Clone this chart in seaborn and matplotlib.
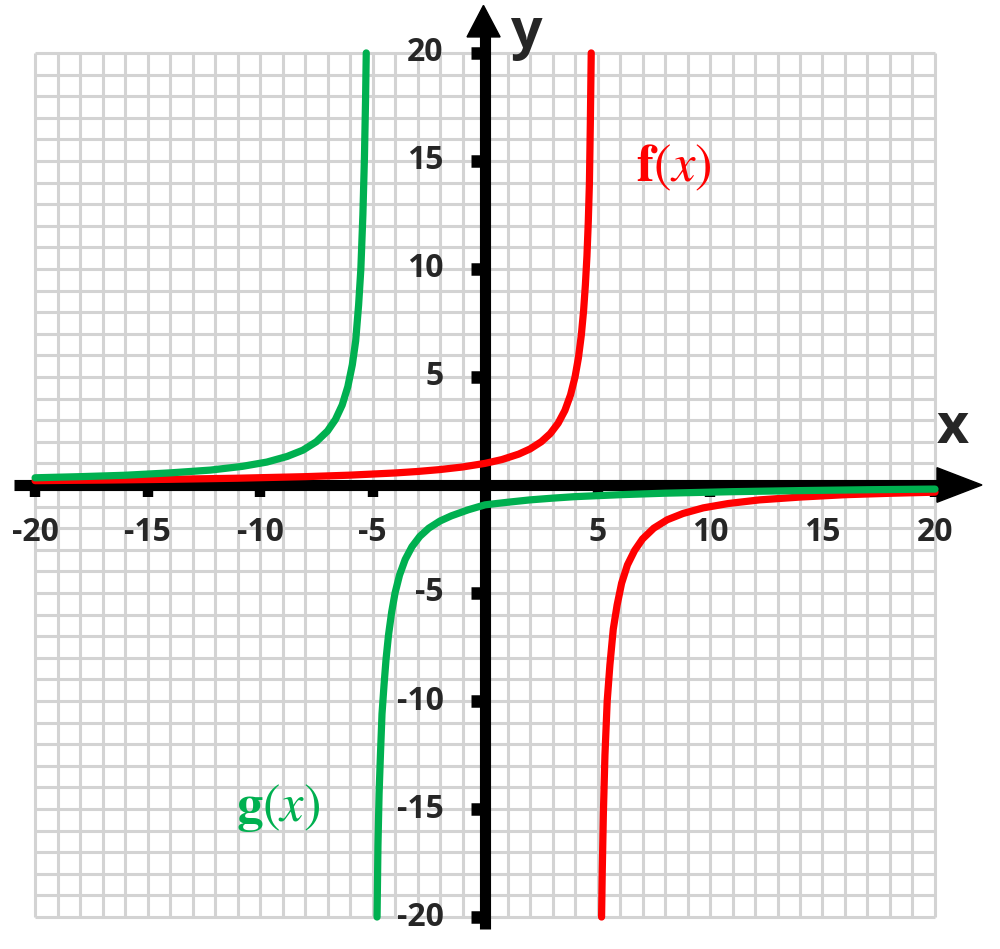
import numpy as np
import pandas as pd
import matplotlib
matplotlib.use('Agg')
from matplotlib import pyplot as plt
import seaborn as sns

# 곡선 데이터
f_left_x = [-20, -17, -14, -11, -8, -6, -4, -3, -2, -1, 0, 0.75, 1.5, 2, 2.5, 2.9, 3.25, 3.55, 3.8, 4.0,
            4.15, 4.28, 4.38, 4.46, 4.53, 4.59, 4.64, 4.68, 4.72]
f_left_y = [0.2, 0.227, 0.263, 0.313, 0.385, 0.455, 0.556, 0.625, 0.714, 0.833, 1.0, 1.176, 1.43, 1.667, 2.0, 2.38,
            2.86, 3.45, 4.17, 5.0, 5.88, 6.94, 8.06, 9.26, 10.6, 12.2, 14.0, 16.7, 20.0]
f_right_x = [5.18, 5.21, 5.26, 5.33, 5.43, 5.55, 5.7, 5.87, 6.07, 6.33, 6.65, 7.0, 7.5, 8.1, 8.8, 9.7, 10.8, 12.2,
             14, 16, 18, 20]
f_right_y = [-20, -17.9, -15.2, -12.5, -10, -8.33, -6.67, -5.56, -4.55, -3.7, -3.03, -2.5, -2.0, -1.61, -1.32,
             -1.06, -0.86, -0.69, -0.56, -0.45, -0.385, -0.333]
g_left_x = [-20, -18, -16, -14, -12.2, -10.8, -9.7, -8.8, -8.1, -7.5, -7.0, -6.65, -6.35, -6.1, -5.9, -5.75,
            -5.62, -5.52, -5.43, -5.36, -5.31, -5.28]
g_left_y = [0.333, 0.385, 0.45, 0.56, 0.69, 0.86, 1.06, 1.32, 1.61, 2.0, 2.5, 3.03, 3.7, 4.55, 5.56, 6.67, 8.33,
            10.0, 12.5, 15.2, 17.9, 20.0]
g_right_x = [-4.8, -4.76, -4.71, -4.65, -4.58, -4.49, -4.4, -4.29, -4.15, -4.0, -3.8, -3.55, -3.25, -2.9, -2.5,
             -2, -1.5, -0.75, 0, 1, 2, 3, 4, 6, 8, 11, 14, 17, 20]
g_right_y = [-20, -16.7, -14.3, -12.5, -10.6, -9.26, -8.06, -6.94, -5.88, -5.0, -4.17, -3.45, -2.86, -2.38, -2.0,
             -1.667, -1.43, -1.15, -0.92, -0.8, -0.69, -0.61, -0.54, -0.45, -0.38, -0.31, -0.26, -0.22, -0.19]

ticks = [-20, -15, -10, -5, 5, 10, 15, 20]
grid_vals = list(range(-20, 21))

RED = '#FF0000'
GREEN = '#00B050'

branches = [('f(x)', 'f1', f_left_x, f_left_y), ('f(x)', 'f2', f_right_x, f_right_y),
            ('g(x)', 'g1', g_left_x, g_left_y), ('g(x)', 'g2', g_right_x, g_right_y)]
rows = []
for func, br, xs, ys in branches:
    for xv, yv in zip(xs, ys):
        rows.append({'x': xv, 'y': yv, 'func': func, 'branch': br})
df = pd.DataFrame(rows)

sns.set_style('white')
plt.rcParams['font.family'] = ['Open Sans', 'DejaVu Sans']
plt.rcParams['mathtext.fontset'] = 'stix'

fig = plt.figure(figsize=(10, 9.49), dpi=100)
ax = fig.add_axes([0, 0, 1, 1])

# 격자
ax.vlines(grid_vals, -20, 20, color='#d3d3d3', lw=2.2, zorder=0)
ax.hlines(grid_vals, -20, 20, color='#d3d3d3', lw=2.2, zorder=0)

# 축 + 화살표
ax.plot([-20.93, 20.2], [0, 0], color='black', lw=8, solid_capstyle='butt', zorder=2)
ax.plot([0, 0], [-20.55, 20.9], color='black', lw=8, solid_capstyle='butt', zorder=2)
ax.fill([20.09, 20.09, 22.09], [0.8, -0.8, 0], color='black', zorder=2)
ax.fill([-0.8, 0.67, -0.07], [20.74, 20.74, 22.2], color='black', zorder=2)

# 눈금 표시
for t in ticks:
    ax.plot([-0.62, 0], [t, t], color='black', lw=9, solid_capstyle='butt', zorder=2)
    ax.plot([t, t], [0, -0.55], color='black', lw=7.5, solid_capstyle='butt', zorder=2)
    ax.text(-1.85, t, str(t), ha='right', va='center', fontsize=23, fontweight='bold')
    ax.text(t, -2.2, str(t), ha='center', va='center', fontsize=23, fontweight='bold')

# 곡선
sns.lineplot(data=df, x='x', y='y', hue='func', units='branch', estimator=None, sort=False,
             palette={'f(x)': RED, 'g(x)': GREEN}, lw=5.2, legend=False, ax=ax, zorder=3,
             solid_joinstyle='round')
ax.set_xlim(-21.56, 22.89)
ax.set_ylim(-21.48, 22.45)
ax.axis('off')

ax.text(8.4, 14.7, r'$\mathbf{f}(x)$', color=RED, ha='center', va='center', fontsize=38)
ax.text(-9.2, -14.9, r'$\mathbf{g}(x)$', color=GREEN, ha='center', va='center', fontsize=38)
ax.text(20.8, 2.6, 'x', ha='center', va='center', fontsize=40, fontweight='bold')
ax.text(1.82, 20.9, 'y', ha='center', va='center', fontsize=40, fontweight='bold')

plt.savefig('out.png', dpi=100)
